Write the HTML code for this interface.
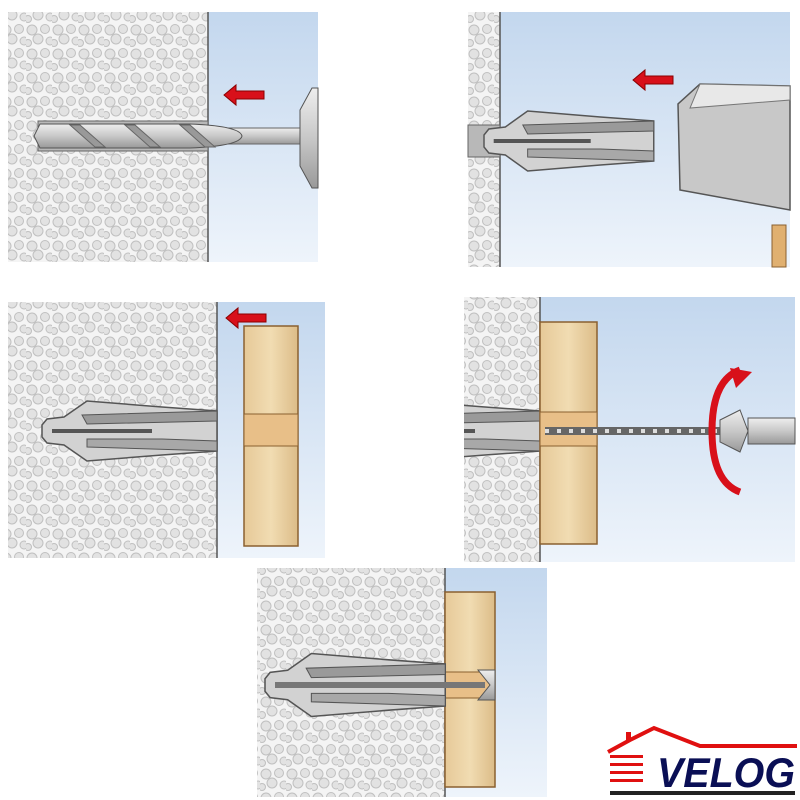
<!DOCTYPE html>
<html><head><style>body{margin:0;background:#fff}svg{display:block}</style></head><body>
<svg width="800" height="800" viewBox="0 0 800 800" xmlns="http://www.w3.org/2000/svg">
<defs>
<pattern id="stone" width="26" height="24" patternUnits="userSpaceOnUse">
<rect width="26" height="24" fill="#f4f4f4"/>
<g fill="#e2e2e2" stroke="#c0c0c0" stroke-width="1">
<circle cx="6" cy="6" r="5"/><circle cx="19" cy="5" r="4.5"/><circle cx="12" cy="15" r="5"/><circle cx="24" cy="17" r="4"/><circle cx="2" cy="19" r="3.5"/>
</g></pattern>
<linearGradient id="sky" x1="0" y1="0" x2="0" y2="1"><stop offset="0" stop-color="#c3d7ee"/><stop offset="1" stop-color="#eef4fb"/></linearGradient>
<linearGradient id="wood" x1="0" y1="0" x2="1" y2="0"><stop offset="0" stop-color="#e6c998"/><stop offset="0.5" stop-color="#f1dcb2"/><stop offset="1" stop-color="#dcbc88"/></linearGradient>
<linearGradient id="metal" x1="0" y1="0" x2="0" y2="1"><stop offset="0" stop-color="#eee"/><stop offset="0.5" stop-color="#c8c8c8"/><stop offset="1" stop-color="#999"/></linearGradient>
<clipPath id="c4"><rect x="464" y="297" width="331" height="265"/></clipPath>
<g id="arrow"><polygon points="0,10 12,0 12,6 40,6 40,14 12,14 12,20" fill="#d8101a" stroke="#8a0000" stroke-width="1"/></g>
<g id="plug">
<polygon points="0,-6 5,-12 22,-14 45,-30 120,-24 175,-20 175,20 120,24 45,30 22,14 5,12 0,6" fill="#d2d2d2" stroke="#555" stroke-width="1.5"/>
<polygon points="40,-16 175,-20 175,-10 45,-7" fill="#9a9a9a" stroke="#555"/>
<polygon points="45,16 175,20 175,10 120,8 45,8" fill="#a8a8a8" stroke="#555"/>
<rect x="10" y="-2" width="100" height="4" fill="#555"/>
</g>
</defs>

<!-- Panel 1 -->
<rect x="208" y="12" width="110" height="250" fill="url(#sky)"/>
<rect x="8" y="12" width="200" height="250" fill="url(#stone)"/>
<line x1="208" y1="12" x2="208" y2="262" stroke="#555" stroke-width="1.5"/>
<rect x="38" y="121" width="170" height="30" fill="#b8b8b8" stroke="#666"/>
<rect x="200" y="128" width="100" height="16" fill="url(#metal)" stroke="#666"/>
<path d="M40,124 L190,124 Q240,126 242,136 Q240,146 190,148 L40,148 L34,136 Z" fill="url(#metal)" stroke="#555"/>
<g stroke="#666" fill="#999"><path d="M70,125 L95,147 L105,147 L80,125Z"/><path d="M125,125 L150,147 L160,147 L135,125Z"/><path d="M180,125 L205,147 L215,147 L190,125Z"/></g>
<path d="M300,110 L312,88 L318,88 L318,188 L312,188 L300,166 Z" fill="url(#metal)" stroke="#555"/>
<use href="#arrow" x="224" y="85"/>

<!-- Panel 2 -->
<rect x="500" y="12" width="290" height="255" fill="url(#sky)"/>
<rect x="468" y="12" width="32" height="255" fill="url(#stone)"/>
<line x1="500" y1="12" x2="500" y2="267" stroke="#555" stroke-width="1.5"/>
<rect x="468" y="125" width="32" height="32" fill="#b8b8b8" stroke="#666"/>
<g transform="translate(484,141) scale(0.97,1)"><use href="#plug"/></g>
<polygon points="700,84 790,86 790,210 680,190 678,104" fill="#c8c8c8" stroke="#555" stroke-width="1.5"/>
<polygon points="700,84 790,86 790,100 690,108" fill="#e8e8e8" stroke="#777"/>
<rect x="772" y="225" width="14" height="42" fill="#e0b070" stroke="#8a6030"/>
<use href="#arrow" x="633" y="70"/>

<!-- Panel 3 -->
<rect x="217" y="302" width="108" height="256" fill="url(#sky)"/>
<rect x="8" y="302" width="209" height="256" fill="url(#stone)"/>
<line x1="217" y1="302" x2="217" y2="558" stroke="#555" stroke-width="1.5"/>
<g transform="translate(42,431)"><use href="#plug"/></g>
<rect x="244" y="326" width="54" height="220" fill="url(#wood)" stroke="#8a6030" stroke-width="1.5"/>
<rect x="244" y="414" width="54" height="32" fill="#e8bf88" stroke="#8a6030"/>
<use href="#arrow" x="226" y="308"/>

<!-- Panel 4 -->
<rect x="540" y="297" width="255" height="265" fill="url(#sky)"/>
<rect x="464" y="297" width="76" height="265" fill="url(#stone)"/>
<line x1="540" y1="297" x2="540" y2="562" stroke="#555" stroke-width="1.5"/>
<g clip-path="url(#c4)"><g transform="translate(365,431)"><use href="#plug"/></g></g>
<rect x="540" y="322" width="57" height="222" fill="url(#wood)" stroke="#8a6030" stroke-width="1.5"/>
<rect x="540" y="412" width="57" height="34" fill="#e8bf88" stroke="#8a6030"/>
<path d="M545,431 L720,431" stroke="#666" stroke-width="8"/>
<path d="M545,431 L720,431" stroke="#ddd" stroke-width="4" stroke-dasharray="4 8"/>
<polygon points="720,420 740,410 748,431 740,452 720,442" fill="url(#metal)" stroke="#555"/>
<rect x="748" y="418" width="47" height="26" fill="url(#metal)" stroke="#555"/>
<path d="M740,370 Q712,380 712,431 Q712,482 740,492" fill="none" stroke="#d8101a" stroke-width="7"/>
<polygon points="730,368 752,372 736,388" fill="#d8101a"/>

<!-- Panel 5 -->
<rect x="445" y="568" width="102" height="229" fill="url(#sky)"/>
<rect x="257" y="568" width="188" height="229" fill="url(#stone)"/>
<line x1="445" y1="568" x2="445" y2="797" stroke="#555" stroke-width="1.5"/>
<rect x="445" y="592" width="50" height="195" fill="url(#wood)" stroke="#8a6030" stroke-width="1.5"/>
<rect x="445" y="672" width="50" height="26" fill="#e8bf88" stroke="#8a6030"/>
<g transform="translate(265,685) scale(1.03,1.05)"><use href="#plug"/></g>
<path d="M275,685 L485,685" stroke="#777" stroke-width="6"/>
<polygon points="478,670 495,670 495,700 478,700 490,685" fill="url(#metal)" stroke="#555"/>

<!-- Logo -->
<polyline points="608,752 630,740 654,728 700,746 797,746" fill="none" stroke="#e01010" stroke-width="4"/>
<rect x="626" y="732" width="5" height="8" fill="#e01010"/>
<g fill="#e01010"><rect x="610" y="755" width="33" height="3"/><rect x="610" y="763" width="33" height="3"/><rect x="610" y="771" width="33" height="3"/><rect x="610" y="779" width="33" height="3"/></g>
<text x="657" y="787" font-family="Liberation Sans, sans-serif" font-weight="bold" font-style="italic" font-size="42" fill="#0a0f55" textLength="138" lengthAdjust="spacingAndGlyphs">VELOG</text>
<rect x="610" y="791" width="185" height="4" fill="#222"/>
</svg>
</body></html>
